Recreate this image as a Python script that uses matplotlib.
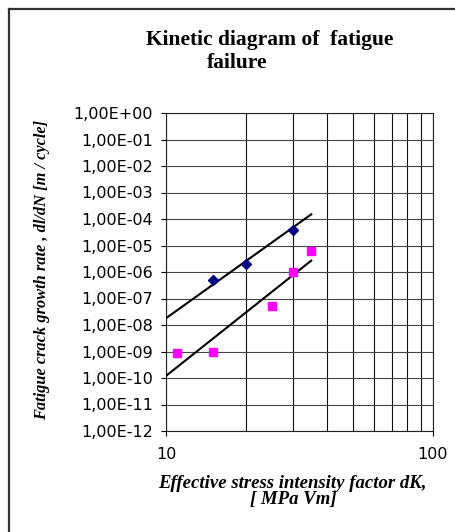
import matplotlib; matplotlib.use("Agg")
import matplotlib.pyplot as plt
from matplotlib.ticker import LogLocator, FixedLocator, NullFormatter, FuncFormatter

# data
dk_blue = [15, 20, 30]
rate_blue = [5e-7, 2e-6, 4e-5]
dk_pink = [11, 15, 25, 30, 35]
rate_pink = [9e-10, 1e-9, 5e-8, 1e-6, 6e-6]
# trendline ends (power law -> straight on log-log)
trend_dk = [10, 35]
trend_blue = [1.8e-8, 1.5e-4]
trend_pink = [1.2e-10, 2.7e-6]

fig = plt.figure(figsize=(4.56, 5.32), dpi=100)
ax = fig.add_axes([166/456, 1-431/532, 267/456, 318/532])

ax.plot(trend_dk, trend_blue, '-', color='black', lw=1.5, zorder=3)
ax.plot(trend_dk, trend_pink, '-', color='black', lw=1.5, zorder=3)
ax.plot(dk_blue, rate_blue, 'D', color='#000080', ms=5.5, ls='none', zorder=4)
ax.plot(dk_pink, rate_pink, 's', color='#FF00FF', ms=5.8, ls='none', zorder=4)

ax.set_xscale('log'); ax.set_yscale('log')
ax.set_xlim(10, 100); ax.set_ylim(1e-12, 1)
ax.xaxis.set_major_locator(FixedLocator([10, 100]))
ax.xaxis.set_minor_locator(FixedLocator(range(20, 100, 10)))
ax.xaxis.set_minor_formatter(NullFormatter())
ax.xaxis.set_major_formatter(FuncFormatter(lambda v, p: f"{v:.0f}"))
ax.yaxis.set_major_locator(LogLocator(base=10, numticks=20))
ax.yaxis.set_minor_locator(FixedLocator([]))
ax.yaxis.set_major_formatter(FuncFormatter(lambda v, p: f"{v:.2E}".replace('.', ',')))

ax.grid(True, which='major', axis='y', color='#444', lw=0.8)
ax.grid(True, which='both', axis='x', color='#111', lw=0.8)
ax.tick_params(axis='y', which='major', direction='out', length=3.5, width=0.8, pad=6,
               labelsize=11.5, labelfontfamily='DejaVu Sans')
ax.tick_params(axis='x', which='major', direction='out', length=3.5, width=0.8, pad=8,
               labelsize=11.5, labelfontfamily='DejaVu Sans')
ax.tick_params(axis='x', which='minor', length=0)
for s in ax.spines.values():
    s.set_color('#222'); s.set_linewidth(0.8)

serif = 'Liberation Serif'
ax.set_ylabel("Fatigue crack growth rate , dl/dN [m / cycle]", family=serif,
              style='italic', weight='bold', fontsize=11.8, va='center')
ax.yaxis.set_label_coords(-0.465, 0.508)
ax.set_xlabel("Effective stress intensity factor dK,\n[ MPa Vm]", family=serif,
              style='italic', weight='bold', fontsize=13.5, va='center', linespacing=0.95)
ax.xaxis.set_label_coords(0.475, -0.19)

fig.text(270/456, 1-40/532, "Kinetic diagram of  fatigue", family=serif, weight='bold',
         fontsize=15.5, ha='center', va='center')
fig.text(237/456, 1-63/532, "failure", family=serif, weight='bold',
         fontsize=15.5, ha='center', va='center')

# outer chart border (right and bottom edges fall outside the picture)
fig.add_artist(plt.Line2D([9/456, 9/456], [0, 1-9/532], color='#333', lw=1.6, transform=fig.transFigure))
fig.add_artist(plt.Line2D([9/456, 1], [1-9/532, 1-9/532], color='#333', lw=1.6, transform=fig.transFigure))

fig.savefig("out.png", dpi=100)
